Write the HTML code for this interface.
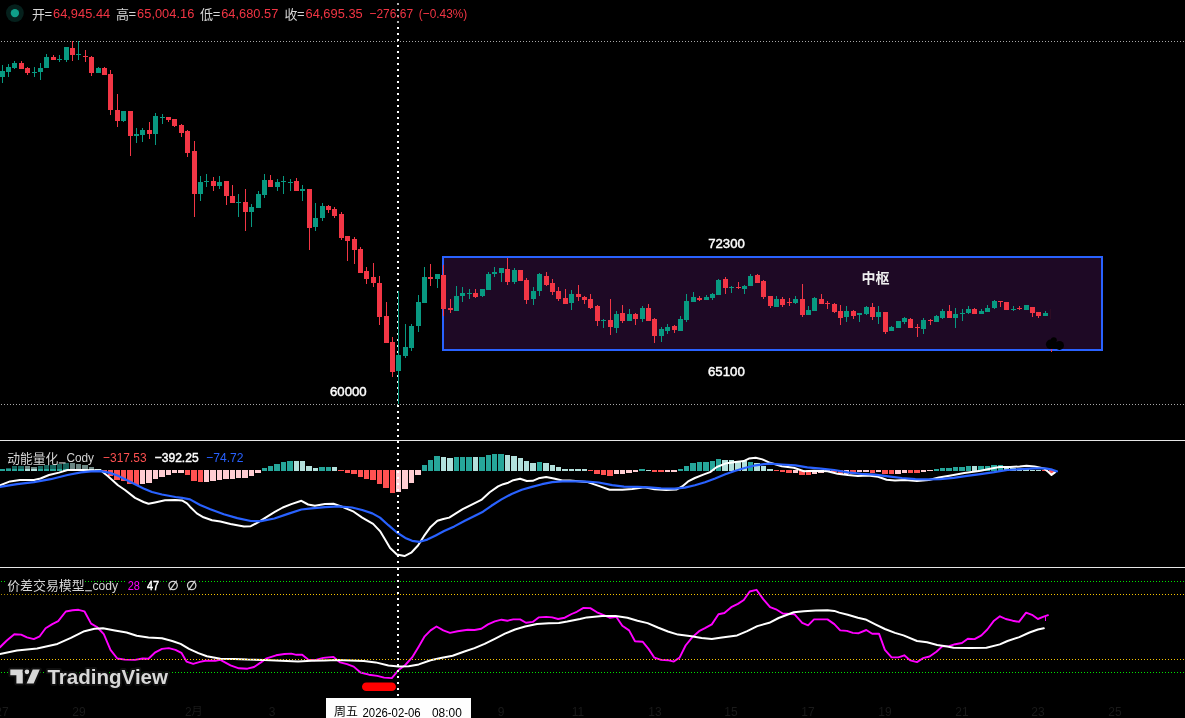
<!DOCTYPE html><html><head><meta charset="utf-8"><title>chart</title>
<style>html,body{margin:0;padding:0;background:#000;overflow:hidden}svg{display:block;font-family:"Liberation Sans","Noto Sans CJK SC",sans-serif}</style></head><body>
<svg width="1185" height="718" viewBox="0 0 1185 718">
<rect width="1185" height="718" fill="#000"/>
<rect x="443" y="257" width="659" height="93" fill="#1e0925" stroke="#2962ff" stroke-width="2" shape-rendering="crispEdges"/>
<line x1="1" y1="41.5" x2="1185" y2="41.5" stroke="#a8a8a8" stroke-width="1" stroke-dasharray="1 2" shape-rendering="crispEdges"/>
<line x1="1" y1="404.5" x2="1185" y2="404.5" stroke="#a8a8a8" stroke-width="1" stroke-dasharray="1 2" shape-rendering="crispEdges"/>
<rect x="0" y="440" width="1185" height="1" fill="#e6e6e6"/>
<rect x="0" y="567" width="1185" height="1" fill="#e6e6e6"/>
<g shape-rendering="crispEdges">
<rect x="2" y="65" width="1" height="18" fill="#089981"/><rect x="0" y="71" width="5" height="6" fill="#089981"/>
<rect x="8" y="64" width="1" height="13" fill="#089981"/><rect x="6" y="67" width="5" height="5" fill="#089981"/>
<rect x="14" y="61" width="1" height="8" fill="#089981"/><rect x="12" y="63" width="5" height="5" fill="#089981"/>
<rect x="21" y="61" width="1" height="8" fill="#f23645"/><rect x="19" y="63" width="5" height="6" fill="#f23645"/>
<rect x="27" y="67" width="1" height="8" fill="#f23645"/><rect x="25" y="68" width="5" height="5" fill="#f23645"/>
<rect x="34" y="67" width="1" height="10" fill="#089981"/><rect x="32" y="72" width="5" height="1" fill="#089981"/>
<rect x="40" y="63" width="1" height="17" fill="#089981"/><rect x="38" y="68" width="5" height="4" fill="#089981"/>
<rect x="46" y="54" width="1" height="14" fill="#089981"/><rect x="44" y="57" width="5" height="11" fill="#089981"/>
<rect x="53" y="55" width="1" height="5" fill="#f23645"/><rect x="51" y="57" width="5" height="3" fill="#f23645"/>
<rect x="59" y="55" width="1" height="7" fill="#089981"/><rect x="57" y="59" width="5" height="1" fill="#089981"/>
<rect x="66" y="47" width="1" height="15" fill="#089981"/><rect x="64" y="47" width="5" height="13" fill="#089981"/>
<rect x="72" y="41" width="1" height="20" fill="#f23645"/><rect x="70" y="48" width="5" height="7" fill="#f23645"/>
<rect x="78" y="41" width="1" height="19" fill="#089981"/><rect x="76" y="54" width="5" height="1" fill="#089981"/>
<rect x="85" y="50" width="1" height="12" fill="#f23645"/><rect x="83" y="56" width="5" height="1" fill="#f23645"/>
<rect x="91" y="56" width="1" height="20" fill="#f23645"/><rect x="89" y="57" width="5" height="16" fill="#f23645"/>
<rect x="98" y="67" width="1" height="6" fill="#089981"/><rect x="96" y="68" width="5" height="5" fill="#089981"/>
<rect x="104" y="67" width="1" height="8" fill="#f23645"/><rect x="102" y="68" width="5" height="7" fill="#f23645"/>
<rect x="110" y="70" width="1" height="45" fill="#f23645"/><rect x="108" y="74" width="5" height="36" fill="#f23645"/>
<rect x="117" y="94" width="1" height="33" fill="#f23645"/><rect x="115" y="110" width="5" height="11" fill="#f23645"/>
<rect x="123" y="111" width="1" height="11" fill="#089981"/><rect x="121" y="111" width="5" height="10" fill="#089981"/>
<rect x="130" y="111" width="1" height="45" fill="#f23645"/><rect x="128" y="111" width="5" height="25" fill="#f23645"/>
<rect x="136" y="128" width="1" height="15" fill="#089981"/><rect x="134" y="134" width="5" height="2" fill="#089981"/>
<rect x="142" y="128" width="1" height="14" fill="#089981"/><rect x="140" y="130" width="5" height="5" fill="#089981"/>
<rect x="149" y="122" width="1" height="17" fill="#f23645"/><rect x="147" y="130" width="5" height="4" fill="#f23645"/>
<rect x="155" y="113" width="1" height="32" fill="#089981"/><rect x="153" y="116" width="5" height="18" fill="#089981"/>
<rect x="162" y="114" width="1" height="10" fill="#089981"/><rect x="160" y="117" width="5" height="1" fill="#089981"/>
<rect x="168" y="117" width="1" height="5" fill="#f23645"/><rect x="166" y="117" width="5" height="3" fill="#f23645"/>
<rect x="174" y="119" width="1" height="8" fill="#f23645"/><rect x="172" y="119" width="5" height="7" fill="#f23645"/>
<rect x="181" y="124" width="1" height="13" fill="#f23645"/><rect x="179" y="125" width="5" height="8" fill="#f23645"/>
<rect x="187" y="130" width="1" height="27" fill="#f23645"/><rect x="185" y="131" width="5" height="22" fill="#f23645"/>
<rect x="194" y="141" width="1" height="76" fill="#f23645"/><rect x="192" y="151" width="5" height="43" fill="#f23645"/>
<rect x="200" y="176" width="1" height="25" fill="#089981"/><rect x="198" y="182" width="5" height="12" fill="#089981"/>
<rect x="206" y="174" width="1" height="13" fill="#089981"/><rect x="204" y="181" width="5" height="1" fill="#089981"/>
<rect x="213" y="177" width="1" height="14" fill="#f23645"/><rect x="211" y="181" width="5" height="5" fill="#f23645"/>
<rect x="219" y="176" width="1" height="13" fill="#089981"/><rect x="217" y="182" width="5" height="4" fill="#089981"/>
<rect x="226" y="181" width="1" height="24" fill="#f23645"/><rect x="224" y="181" width="5" height="15" fill="#f23645"/>
<rect x="232" y="185" width="1" height="18" fill="#f23645"/><rect x="230" y="196" width="5" height="7" fill="#f23645"/>
<rect x="238" y="194" width="1" height="23" fill="#089981"/><rect x="236" y="202" width="5" height="1" fill="#089981"/>
<rect x="245" y="189" width="1" height="42" fill="#f23645"/><rect x="243" y="202" width="5" height="10" fill="#f23645"/>
<rect x="251" y="204" width="1" height="23" fill="#089981"/><rect x="249" y="207" width="5" height="5" fill="#089981"/>
<rect x="258" y="191" width="1" height="17" fill="#089981"/><rect x="256" y="194" width="5" height="14" fill="#089981"/>
<rect x="264" y="174" width="1" height="24" fill="#089981"/><rect x="262" y="180" width="5" height="15" fill="#089981"/>
<rect x="270" y="175" width="1" height="12" fill="#f23645"/><rect x="268" y="180" width="5" height="7" fill="#f23645"/>
<rect x="277" y="179" width="1" height="12" fill="#089981"/><rect x="275" y="182" width="5" height="5" fill="#089981"/>
<rect x="283" y="176" width="1" height="18" fill="#089981"/><rect x="281" y="181" width="5" height="1" fill="#089981"/>
<rect x="290" y="179" width="1" height="12" fill="#089981"/><rect x="288" y="182" width="5" height="1" fill="#089981"/>
<rect x="296" y="178" width="1" height="13" fill="#f23645"/><rect x="294" y="181" width="5" height="10" fill="#f23645"/>
<rect x="302" y="185" width="1" height="16" fill="#089981"/><rect x="300" y="189" width="5" height="2" fill="#089981"/>
<rect x="309" y="189" width="1" height="61" fill="#f23645"/><rect x="307" y="189" width="5" height="39" fill="#f23645"/>
<rect x="315" y="203" width="1" height="28" fill="#089981"/><rect x="313" y="218" width="5" height="9" fill="#089981"/>
<rect x="322" y="203" width="1" height="18" fill="#089981"/><rect x="320" y="206" width="5" height="12" fill="#089981"/>
<rect x="328" y="205" width="1" height="8" fill="#f23645"/><rect x="326" y="206" width="5" height="4" fill="#f23645"/>
<rect x="334" y="207" width="1" height="11" fill="#f23645"/><rect x="332" y="209" width="5" height="7" fill="#f23645"/>
<rect x="341" y="212" width="1" height="28" fill="#f23645"/><rect x="339" y="214" width="5" height="24" fill="#f23645"/>
<rect x="347" y="236" width="1" height="25" fill="#f23645"/><rect x="345" y="236" width="5" height="5" fill="#f23645"/>
<rect x="354" y="237" width="1" height="27" fill="#f23645"/><rect x="352" y="239" width="5" height="11" fill="#f23645"/>
<rect x="360" y="247" width="1" height="26" fill="#f23645"/><rect x="358" y="249" width="5" height="24" fill="#f23645"/>
<rect x="366" y="267" width="1" height="17" fill="#f23645"/><rect x="364" y="271" width="5" height="8" fill="#f23645"/>
<rect x="373" y="263" width="1" height="24" fill="#f23645"/><rect x="371" y="277" width="5" height="6" fill="#f23645"/>
<rect x="379" y="276" width="1" height="49" fill="#f23645"/><rect x="377" y="283" width="5" height="34" fill="#f23645"/>
<rect x="386" y="302" width="1" height="41" fill="#f23645"/><rect x="384" y="316" width="5" height="27" fill="#f23645"/>
<rect x="392" y="337" width="1" height="40" fill="#f23645"/><rect x="390" y="342" width="5" height="30" fill="#f23645"/>
<rect x="398" y="291" width="1" height="113" fill="#089981"/><rect x="396" y="355" width="5" height="16" fill="#089981"/>
<rect x="405" y="324" width="1" height="34" fill="#089981"/><rect x="403" y="347" width="5" height="9" fill="#089981"/>
<rect x="411" y="324" width="1" height="27" fill="#089981"/><rect x="409" y="326" width="5" height="22" fill="#089981"/>
<rect x="418" y="295" width="1" height="37" fill="#089981"/><rect x="416" y="302" width="5" height="24" fill="#089981"/>
<rect x="424" y="267" width="1" height="36" fill="#089981"/><rect x="422" y="277" width="5" height="26" fill="#089981"/>
<rect x="430" y="264" width="1" height="22" fill="#f23645"/><rect x="428" y="277" width="5" height="2" fill="#f23645"/>
<rect x="437" y="274" width="1" height="14" fill="#089981"/><rect x="435" y="274" width="5" height="5" fill="#089981"/>
<rect x="443" y="265" width="1" height="51" fill="#f23645"/><rect x="441" y="275" width="5" height="34" fill="#f23645"/>
<rect x="450" y="299" width="1" height="14" fill="#f23645"/><rect x="448" y="308" width="5" height="2" fill="#f23645"/>
<rect x="456" y="286" width="1" height="25" fill="#089981"/><rect x="454" y="296" width="5" height="15" fill="#089981"/>
<rect x="462" y="287" width="1" height="15" fill="#089981"/><rect x="460" y="293" width="5" height="3" fill="#089981"/>
<rect x="469" y="289" width="1" height="10" fill="#089981"/><rect x="467" y="293" width="5" height="1" fill="#089981"/>
<rect x="475" y="289" width="1" height="9" fill="#f23645"/><rect x="473" y="293" width="5" height="4" fill="#f23645"/>
<rect x="482" y="289" width="1" height="8" fill="#089981"/><rect x="480" y="289" width="5" height="7" fill="#089981"/>
<rect x="488" y="272" width="1" height="18" fill="#089981"/><rect x="486" y="274" width="5" height="16" fill="#089981"/>
<rect x="494" y="267" width="1" height="10" fill="#089981"/><rect x="492" y="272" width="5" height="2" fill="#089981"/>
<rect x="501" y="268" width="1" height="14" fill="#089981"/><rect x="499" y="268" width="5" height="5" fill="#089981"/>
<rect x="507" y="258" width="1" height="27" fill="#f23645"/><rect x="505" y="269" width="5" height="13" fill="#f23645"/>
<rect x="514" y="268" width="1" height="16" fill="#089981"/><rect x="512" y="270" width="5" height="12" fill="#089981"/>
<rect x="520" y="270" width="1" height="11" fill="#f23645"/><rect x="518" y="270" width="5" height="11" fill="#f23645"/>
<rect x="526" y="278" width="1" height="26" fill="#f23645"/><rect x="524" y="280" width="5" height="20" fill="#f23645"/>
<rect x="533" y="287" width="1" height="18" fill="#089981"/><rect x="531" y="291" width="5" height="8" fill="#089981"/>
<rect x="539" y="273" width="1" height="23" fill="#089981"/><rect x="537" y="274" width="5" height="17" fill="#089981"/>
<rect x="546" y="272" width="1" height="14" fill="#f23645"/><rect x="544" y="276" width="5" height="9" fill="#f23645"/>
<rect x="552" y="279" width="1" height="16" fill="#f23645"/><rect x="550" y="283" width="5" height="9" fill="#f23645"/>
<rect x="558" y="287" width="1" height="14" fill="#f23645"/><rect x="556" y="291" width="5" height="8" fill="#f23645"/>
<rect x="565" y="289" width="1" height="15" fill="#f23645"/><rect x="563" y="298" width="5" height="6" fill="#f23645"/>
<rect x="571" y="290" width="1" height="20" fill="#089981"/><rect x="569" y="294" width="5" height="9" fill="#089981"/>
<rect x="578" y="285" width="1" height="16" fill="#f23645"/><rect x="576" y="294" width="5" height="3" fill="#f23645"/>
<rect x="584" y="296" width="1" height="8" fill="#f23645"/><rect x="582" y="297" width="5" height="3" fill="#f23645"/>
<rect x="590" y="294" width="1" height="15" fill="#f23645"/><rect x="588" y="299" width="5" height="9" fill="#f23645"/>
<rect x="597" y="305" width="1" height="21" fill="#f23645"/><rect x="595" y="306" width="5" height="15" fill="#f23645"/>
<rect x="603" y="319" width="1" height="9" fill="#089981"/><rect x="601" y="320" width="5" height="1" fill="#089981"/>
<rect x="610" y="299" width="1" height="36" fill="#f23645"/><rect x="608" y="320" width="5" height="7" fill="#f23645"/>
<rect x="616" y="311" width="1" height="22" fill="#089981"/><rect x="614" y="314" width="5" height="14" fill="#089981"/>
<rect x="622" y="305" width="1" height="18" fill="#f23645"/><rect x="620" y="313" width="5" height="8" fill="#f23645"/>
<rect x="629" y="309" width="1" height="12" fill="#089981"/><rect x="627" y="314" width="5" height="7" fill="#089981"/>
<rect x="635" y="313" width="1" height="12" fill="#f23645"/><rect x="633" y="314" width="5" height="5" fill="#f23645"/>
<rect x="642" y="306" width="1" height="16" fill="#089981"/><rect x="640" y="308" width="5" height="11" fill="#089981"/>
<rect x="648" y="304" width="1" height="17" fill="#f23645"/><rect x="646" y="308" width="5" height="13" fill="#f23645"/>
<rect x="654" y="318" width="1" height="25" fill="#f23645"/><rect x="652" y="319" width="5" height="17" fill="#f23645"/>
<rect x="661" y="327" width="1" height="15" fill="#089981"/><rect x="659" y="329" width="5" height="7" fill="#089981"/>
<rect x="667" y="324" width="1" height="10" fill="#089981"/><rect x="665" y="327" width="5" height="4" fill="#089981"/>
<rect x="674" y="325" width="1" height="8" fill="#f23645"/><rect x="672" y="326" width="5" height="4" fill="#f23645"/>
<rect x="680" y="316" width="1" height="15" fill="#089981"/><rect x="678" y="319" width="5" height="12" fill="#089981"/>
<rect x="686" y="294" width="1" height="28" fill="#089981"/><rect x="684" y="301" width="5" height="19" fill="#089981"/>
<rect x="693" y="292" width="1" height="10" fill="#089981"/><rect x="691" y="297" width="5" height="5" fill="#089981"/>
<rect x="699" y="296" width="1" height="5" fill="#f23645"/><rect x="697" y="298" width="5" height="2" fill="#f23645"/>
<rect x="706" y="295" width="1" height="5" fill="#089981"/><rect x="704" y="297" width="5" height="3" fill="#089981"/>
<rect x="712" y="293" width="1" height="7" fill="#089981"/><rect x="710" y="294" width="5" height="4" fill="#089981"/>
<rect x="718" y="279" width="1" height="16" fill="#089981"/><rect x="716" y="280" width="5" height="15" fill="#089981"/>
<rect x="725" y="277" width="1" height="17" fill="#f23645"/><rect x="723" y="279" width="5" height="9" fill="#f23645"/>
<rect x="731" y="286" width="1" height="7" fill="#089981"/><rect x="729" y="287" width="5" height="1" fill="#089981"/>
<rect x="738" y="282" width="1" height="7" fill="#f23645"/><rect x="736" y="287" width="5" height="1" fill="#f23645"/>
<rect x="744" y="285" width="1" height="9" fill="#089981"/><rect x="742" y="286" width="5" height="3" fill="#089981"/>
<rect x="750" y="274" width="1" height="12" fill="#089981"/><rect x="748" y="276" width="5" height="10" fill="#089981"/>
<rect x="757" y="274" width="1" height="9" fill="#f23645"/><rect x="755" y="275" width="5" height="8" fill="#f23645"/>
<rect x="763" y="280" width="1" height="19" fill="#f23645"/><rect x="761" y="281" width="5" height="16" fill="#f23645"/>
<rect x="770" y="296" width="1" height="12" fill="#f23645"/><rect x="768" y="296" width="5" height="10" fill="#f23645"/>
<rect x="776" y="296" width="1" height="11" fill="#089981"/><rect x="774" y="299" width="5" height="8" fill="#089981"/>
<rect x="782" y="297" width="1" height="10" fill="#f23645"/><rect x="780" y="299" width="5" height="6" fill="#f23645"/>
<rect x="789" y="298" width="1" height="8" fill="#f23645"/><rect x="787" y="302" width="5" height="1" fill="#f23645"/>
<rect x="795" y="296" width="1" height="8" fill="#089981"/><rect x="793" y="299" width="5" height="4" fill="#089981"/>
<rect x="802" y="284" width="1" height="33" fill="#f23645"/><rect x="800" y="299" width="5" height="16" fill="#f23645"/>
<rect x="808" y="306" width="1" height="9" fill="#089981"/><rect x="806" y="310" width="5" height="5" fill="#089981"/>
<rect x="814" y="297" width="1" height="14" fill="#089981"/><rect x="812" y="298" width="5" height="13" fill="#089981"/>
<rect x="821" y="294" width="1" height="10" fill="#f23645"/><rect x="819" y="299" width="5" height="5" fill="#f23645"/>
<rect x="827" y="301" width="1" height="8" fill="#f23645"/><rect x="825" y="303" width="5" height="1" fill="#f23645"/>
<rect x="834" y="303" width="1" height="10" fill="#f23645"/><rect x="832" y="304" width="5" height="8" fill="#f23645"/>
<rect x="840" y="305" width="1" height="20" fill="#f23645"/><rect x="838" y="311" width="5" height="7" fill="#f23645"/>
<rect x="846" y="306" width="1" height="16" fill="#089981"/><rect x="844" y="311" width="5" height="6" fill="#089981"/>
<rect x="853" y="310" width="1" height="9" fill="#f23645"/><rect x="851" y="311" width="5" height="5" fill="#f23645"/>
<rect x="859" y="313" width="1" height="9" fill="#089981"/><rect x="857" y="313" width="5" height="2" fill="#089981"/>
<rect x="866" y="306" width="1" height="9" fill="#089981"/><rect x="864" y="307" width="5" height="7" fill="#089981"/>
<rect x="872" y="303" width="1" height="17" fill="#f23645"/><rect x="870" y="307" width="5" height="10" fill="#f23645"/>
<rect x="878" y="306" width="1" height="18" fill="#089981"/><rect x="876" y="312" width="5" height="5" fill="#089981"/>
<rect x="885" y="312" width="1" height="22" fill="#f23645"/><rect x="883" y="312" width="5" height="20" fill="#f23645"/>
<rect x="891" y="326" width="1" height="5" fill="#089981"/><rect x="889" y="327" width="5" height="4" fill="#089981"/>
<rect x="898" y="321" width="1" height="7" fill="#089981"/><rect x="896" y="321" width="5" height="7" fill="#089981"/>
<rect x="904" y="317" width="1" height="7" fill="#089981"/><rect x="902" y="318" width="5" height="4" fill="#089981"/>
<rect x="910" y="318" width="1" height="10" fill="#f23645"/><rect x="908" y="319" width="5" height="9" fill="#f23645"/>
<rect x="917" y="324" width="1" height="13" fill="#f23645"/><rect x="915" y="327" width="5" height="1" fill="#f23645"/>
<rect x="923" y="318" width="1" height="16" fill="#089981"/><rect x="921" y="320" width="5" height="9" fill="#089981"/>
<rect x="930" y="319" width="1" height="6" fill="#f23645"/><rect x="928" y="320" width="5" height="1" fill="#f23645"/>
<rect x="936" y="315" width="1" height="7" fill="#089981"/><rect x="934" y="316" width="5" height="6" fill="#089981"/>
<rect x="942" y="309" width="1" height="10" fill="#089981"/><rect x="940" y="311" width="5" height="7" fill="#089981"/>
<rect x="949" y="305" width="1" height="13" fill="#f23645"/><rect x="947" y="311" width="5" height="7" fill="#f23645"/>
<rect x="955" y="308" width="1" height="20" fill="#089981"/><rect x="953" y="314" width="5" height="4" fill="#089981"/>
<rect x="962" y="309" width="1" height="12" fill="#089981"/><rect x="960" y="313" width="5" height="1" fill="#089981"/>
<rect x="968" y="306" width="1" height="8" fill="#089981"/><rect x="966" y="309" width="5" height="4" fill="#089981"/>
<rect x="974" y="308" width="1" height="6" fill="#f23645"/><rect x="972" y="309" width="5" height="5" fill="#f23645"/>
<rect x="981" y="309" width="1" height="5" fill="#089981"/><rect x="979" y="311" width="5" height="3" fill="#089981"/>
<rect x="987" y="305" width="1" height="7" fill="#089981"/><rect x="985" y="308" width="5" height="4" fill="#089981"/>
<rect x="994" y="300" width="1" height="9" fill="#089981"/><rect x="992" y="301" width="5" height="7" fill="#089981"/>
<rect x="1000" y="301" width="1" height="6" fill="#f23645"/><rect x="998" y="301" width="5" height="1" fill="#f23645"/>
<rect x="1006" y="302" width="1" height="8" fill="#f23645"/><rect x="1004" y="302" width="5" height="8" fill="#f23645"/>
<rect x="1013" y="306" width="1" height="5" fill="#089981"/><rect x="1011" y="309" width="5" height="1" fill="#089981"/>
<rect x="1019" y="306" width="1" height="4" fill="#f23645"/><rect x="1017" y="308" width="5" height="1" fill="#f23645"/>
<rect x="1026" y="305" width="1" height="5" fill="#089981"/><rect x="1024" y="305" width="5" height="5" fill="#089981"/>
<rect x="1032" y="307" width="1" height="10" fill="#f23645"/><rect x="1030" y="307" width="5" height="6" fill="#f23645"/>
<rect x="1038" y="312" width="1" height="6" fill="#f23645"/><rect x="1036" y="312" width="5" height="4" fill="#f23645"/>
<rect x="1045" y="311" width="1" height="5" fill="#089981"/><rect x="1043" y="313" width="5" height="3" fill="#089981"/>
</g>
<g shape-rendering="crispEdges">
<rect x="0" y="469" width="5" height="2" fill="#26a69a"/>
<rect x="6" y="468" width="5" height="3" fill="#26a69a"/>
<rect x="12" y="466" width="5" height="5" fill="#26a69a"/>
<rect x="18" y="466" width="6" height="5" fill="#26a69a"/>
<rect x="25" y="466" width="5" height="5" fill="#b2dfdb"/>
<rect x="31" y="467" width="6" height="4" fill="#b2dfdb"/>
<rect x="38" y="466" width="5" height="5" fill="#26a69a"/>
<rect x="44" y="465" width="5" height="6" fill="#26a69a"/>
<rect x="50" y="465" width="6" height="6" fill="#26a69a"/>
<rect x="57" y="464" width="5" height="7" fill="#26a69a"/>
<rect x="63" y="463" width="6" height="8" fill="#26a69a"/>
<rect x="70" y="463" width="5" height="8" fill="#b2dfdb"/>
<rect x="76" y="464" width="5" height="7" fill="#b2dfdb"/>
<rect x="82" y="465" width="6" height="6" fill="#b2dfdb"/>
<rect x="89" y="467" width="5" height="4" fill="#b2dfdb"/>
<rect x="95" y="469" width="6" height="2" fill="#b2dfdb"/>
<rect x="102" y="470" width="5" height="2" fill="#ff5252"/>
<rect x="108" y="470" width="5" height="6" fill="#ff5252"/>
<rect x="114" y="470" width="6" height="10" fill="#ff5252"/>
<rect x="121" y="470" width="5" height="11" fill="#ff5252"/>
<rect x="127" y="470" width="6" height="14" fill="#ff5252"/>
<rect x="134" y="470" width="5" height="15" fill="#ff5252"/>
<rect x="140" y="470" width="5" height="14" fill="#ffcdd2"/>
<rect x="146" y="470" width="6" height="13" fill="#ffcdd2"/>
<rect x="153" y="470" width="5" height="9" fill="#ffcdd2"/>
<rect x="159" y="470" width="6" height="7" fill="#ffcdd2"/>
<rect x="166" y="470" width="5" height="5" fill="#ffcdd2"/>
<rect x="172" y="470" width="5" height="3" fill="#ffcdd2"/>
<rect x="178" y="470" width="6" height="3" fill="#ffcdd2"/>
<rect x="185" y="470" width="5" height="5" fill="#ff5252"/>
<rect x="191" y="470" width="6" height="11" fill="#ff5252"/>
<rect x="198" y="470" width="5" height="12" fill="#ff5252"/>
<rect x="204" y="470" width="5" height="12" fill="#ffcdd2"/>
<rect x="210" y="470" width="6" height="11" fill="#ffcdd2"/>
<rect x="217" y="470" width="5" height="10" fill="#ffcdd2"/>
<rect x="223" y="470" width="6" height="9" fill="#ffcdd2"/>
<rect x="230" y="470" width="5" height="9" fill="#ffcdd2"/>
<rect x="236" y="470" width="5" height="8" fill="#ffcdd2"/>
<rect x="242" y="470" width="6" height="8" fill="#ffcdd2"/>
<rect x="249" y="470" width="5" height="6" fill="#ffcdd2"/>
<rect x="255" y="470" width="6" height="3" fill="#ffcdd2"/>
<rect x="262" y="468" width="5" height="3" fill="#26a69a"/>
<rect x="268" y="466" width="5" height="5" fill="#26a69a"/>
<rect x="274" y="464" width="6" height="7" fill="#26a69a"/>
<rect x="281" y="462" width="5" height="9" fill="#26a69a"/>
<rect x="287" y="461" width="6" height="10" fill="#26a69a"/>
<rect x="294" y="461" width="5" height="10" fill="#b2dfdb"/>
<rect x="300" y="461" width="5" height="10" fill="#b2dfdb"/>
<rect x="306" y="466" width="6" height="5" fill="#b2dfdb"/>
<rect x="313" y="468" width="5" height="3" fill="#b2dfdb"/>
<rect x="319" y="467" width="6" height="4" fill="#26a69a"/>
<rect x="326" y="467" width="5" height="4" fill="#26a69a"/>
<rect x="332" y="467" width="5" height="4" fill="#b2dfdb"/>
<rect x="338" y="470" width="6" height="1" fill="#ff5252"/>
<rect x="345" y="470" width="5" height="3" fill="#ff5252"/>
<rect x="351" y="470" width="6" height="4" fill="#ff5252"/>
<rect x="358" y="470" width="5" height="7" fill="#ff5252"/>
<rect x="364" y="470" width="5" height="9" fill="#ff5252"/>
<rect x="370" y="470" width="6" height="10" fill="#ff5252"/>
<rect x="377" y="470" width="5" height="14" fill="#ff5252"/>
<rect x="383" y="470" width="6" height="18" fill="#ff5252"/>
<rect x="390" y="470" width="5" height="23" fill="#ff5252"/>
<rect x="396" y="470" width="5" height="22" fill="#ffcdd2"/>
<rect x="402" y="470" width="6" height="19" fill="#ffcdd2"/>
<rect x="409" y="470" width="5" height="13" fill="#ffcdd2"/>
<rect x="415" y="470" width="6" height="5" fill="#ffcdd2"/>
<rect x="422" y="465" width="5" height="6" fill="#26a69a"/>
<rect x="428" y="460" width="5" height="11" fill="#26a69a"/>
<rect x="434" y="456" width="6" height="15" fill="#26a69a"/>
<rect x="441" y="457" width="5" height="14" fill="#b2dfdb"/>
<rect x="447" y="458" width="6" height="13" fill="#b2dfdb"/>
<rect x="454" y="457" width="5" height="14" fill="#26a69a"/>
<rect x="460" y="457" width="5" height="14" fill="#26a69a"/>
<rect x="466" y="457" width="6" height="14" fill="#26a69a"/>
<rect x="473" y="457" width="5" height="14" fill="#b2dfdb"/>
<rect x="479" y="457" width="6" height="14" fill="#26a69a"/>
<rect x="486" y="455" width="5" height="16" fill="#26a69a"/>
<rect x="492" y="454" width="5" height="17" fill="#26a69a"/>
<rect x="498" y="454" width="6" height="17" fill="#26a69a"/>
<rect x="505" y="455" width="5" height="16" fill="#b2dfdb"/>
<rect x="511" y="456" width="6" height="15" fill="#b2dfdb"/>
<rect x="518" y="458" width="5" height="13" fill="#b2dfdb"/>
<rect x="524" y="461" width="5" height="10" fill="#b2dfdb"/>
<rect x="530" y="463" width="6" height="8" fill="#b2dfdb"/>
<rect x="537" y="462" width="5" height="9" fill="#26a69a"/>
<rect x="543" y="463" width="6" height="8" fill="#b2dfdb"/>
<rect x="550" y="465" width="5" height="6" fill="#b2dfdb"/>
<rect x="556" y="467" width="5" height="4" fill="#b2dfdb"/>
<rect x="562" y="469" width="6" height="2" fill="#b2dfdb"/>
<rect x="569" y="469" width="5" height="2" fill="#b2dfdb"/>
<rect x="575" y="469" width="6" height="2" fill="#b2dfdb"/>
<rect x="582" y="469" width="5" height="2" fill="#b2dfdb"/>
<rect x="588" y="470" width="5" height="1" fill="#ff5252"/>
<rect x="594" y="470" width="6" height="4" fill="#ff5252"/>
<rect x="601" y="470" width="5" height="5" fill="#ff5252"/>
<rect x="607" y="470" width="6" height="6" fill="#ff5252"/>
<rect x="614" y="470" width="5" height="4" fill="#ffcdd2"/>
<rect x="620" y="470" width="5" height="4" fill="#ffcdd2"/>
<rect x="626" y="470" width="6" height="3" fill="#ffcdd2"/>
<rect x="633" y="470" width="5" height="2" fill="#ffcdd2"/>
<rect x="639" y="469" width="6" height="2" fill="#26a69a"/>
<rect x="646" y="470" width="5" height="1" fill="#b2dfdb"/>
<rect x="652" y="470" width="5" height="2" fill="#ff5252"/>
<rect x="658" y="470" width="6" height="2" fill="#ff5252"/>
<rect x="665" y="470" width="5" height="2" fill="#ffcdd2"/>
<rect x="671" y="470" width="6" height="2" fill="#ffcdd2"/>
<rect x="678" y="469" width="5" height="2" fill="#26a69a"/>
<rect x="684" y="466" width="5" height="5" fill="#26a69a"/>
<rect x="690" y="463" width="6" height="8" fill="#26a69a"/>
<rect x="697" y="462" width="5" height="9" fill="#26a69a"/>
<rect x="703" y="462" width="6" height="9" fill="#26a69a"/>
<rect x="710" y="461" width="5" height="10" fill="#26a69a"/>
<rect x="716" y="459" width="5" height="12" fill="#26a69a"/>
<rect x="722" y="460" width="6" height="11" fill="#b2dfdb"/>
<rect x="729" y="460" width="5" height="11" fill="#b2dfdb"/>
<rect x="735" y="461" width="6" height="10" fill="#b2dfdb"/>
<rect x="742" y="461" width="5" height="10" fill="#b2dfdb"/>
<rect x="748" y="462" width="5" height="9" fill="#26a69a"/>
<rect x="754" y="463" width="6" height="8" fill="#b2dfdb"/>
<rect x="761" y="466" width="5" height="5" fill="#b2dfdb"/>
<rect x="767" y="469" width="6" height="2" fill="#b2dfdb"/>
<rect x="774" y="470" width="5" height="1" fill="#ff5252"/>
<rect x="780" y="470" width="5" height="2" fill="#ff5252"/>
<rect x="786" y="470" width="6" height="3" fill="#ff5252"/>
<rect x="793" y="470" width="5" height="3" fill="#ffcdd2"/>
<rect x="799" y="470" width="6" height="5" fill="#ff5252"/>
<rect x="806" y="470" width="5" height="5" fill="#ff5252"/>
<rect x="812" y="470" width="5" height="4" fill="#ffcdd2"/>
<rect x="818" y="470" width="6" height="3" fill="#ffcdd2"/>
<rect x="825" y="470" width="5" height="2" fill="#ffcdd2"/>
<rect x="831" y="470" width="6" height="2" fill="#ff5252"/>
<rect x="838" y="470" width="5" height="4" fill="#ff5252"/>
<rect x="844" y="470" width="5" height="4" fill="#ffcdd2"/>
<rect x="850" y="470" width="6" height="4" fill="#ff5252"/>
<rect x="857" y="470" width="5" height="2" fill="#ffcdd2"/>
<rect x="863" y="470" width="6" height="2" fill="#ffcdd2"/>
<rect x="870" y="470" width="5" height="3" fill="#ff5252"/>
<rect x="876" y="470" width="5" height="2" fill="#ffcdd2"/>
<rect x="882" y="470" width="6" height="4" fill="#ff5252"/>
<rect x="889" y="470" width="5" height="4" fill="#ff5252"/>
<rect x="895" y="470" width="6" height="4" fill="#ffcdd2"/>
<rect x="902" y="470" width="5" height="3" fill="#ffcdd2"/>
<rect x="908" y="470" width="5" height="3" fill="#ff5252"/>
<rect x="914" y="470" width="6" height="3" fill="#ff5252"/>
<rect x="921" y="470" width="5" height="2" fill="#ffcdd2"/>
<rect x="927" y="470" width="6" height="1" fill="#ffcdd2"/>
<rect x="934" y="469" width="5" height="2" fill="#26a69a"/>
<rect x="940" y="468" width="5" height="3" fill="#26a69a"/>
<rect x="946" y="468" width="6" height="3" fill="#26a69a"/>
<rect x="953" y="467" width="5" height="4" fill="#26a69a"/>
<rect x="959" y="467" width="6" height="4" fill="#26a69a"/>
<rect x="966" y="466" width="5" height="5" fill="#26a69a"/>
<rect x="972" y="466" width="5" height="5" fill="#b2dfdb"/>
<rect x="978" y="466" width="6" height="5" fill="#26a69a"/>
<rect x="985" y="466" width="5" height="5" fill="#26a69a"/>
<rect x="991" y="465" width="6" height="6" fill="#26a69a"/>
<rect x="998" y="465" width="5" height="6" fill="#26a69a"/>
<rect x="1004" y="467" width="5" height="4" fill="#b2dfdb"/>
<rect x="1010" y="468" width="6" height="3" fill="#b2dfdb"/>
<rect x="1017" y="469" width="5" height="2" fill="#b2dfdb"/>
<rect x="1023" y="469" width="6" height="2" fill="#b2dfdb"/>
<rect x="1030" y="470" width="5" height="1" fill="#b2dfdb"/>
<rect x="1036" y="470" width="5" height="1" fill="#b2dfdb"/>
<rect x="1042" y="470" width="6" height="1" fill="#ff5252"/>
<rect x="1049" y="470" width="5" height="4" fill="#ff5252"/>
</g>
<rect x="5" y="448" width="92" height="21" fill="#000" opacity="0.4"/>
<polyline points="0.0,485.2 10.0,481.4 20.0,480.0 34.0,480.0 40.5,478.5 49.0,475.0 59.0,472.6 67.5,470.0 84.0,469.9 101.0,470.5 108.0,476.3 118.0,485.2 125.0,490.0 135.0,497.9 143.5,502.0 148.5,503.8 155.0,502.4 165.0,500.3 175.5,499.9 182.0,500.4 187.0,503.3 190.0,506.7 196.8,513.4 203.5,517.3 212.0,520.2 220.4,521.5 230.5,524.0 244.0,526.6 250.8,526.2 257.5,522.7 266.0,517.3 274.4,512.2 282.8,507.5 291.3,504.1 301.4,500.8 308.1,504.5 314.9,505.8 325.0,504.1 333.5,503.8 341.9,506.7 353.7,511.7 362.2,517.6 373.1,523.9 380.0,531.1 385.1,539.6 390.1,548.0 396.9,554.4 404.5,556.1 411.2,552.7 418.0,545.5 423.9,536.2 430.6,526.9 437.4,520.7 443.3,519.0 449.2,517.6 455.9,513.4 462.7,509.2 472.8,504.1 481.3,499.9 489.7,492.3 498.1,486.4 503.2,484.2 508.3,482.7 513.3,480.2 520.1,478.8 526.8,481.0 532.7,480.8 538.6,478.3 546.2,477.1 553.8,478.5 562.3,480.5 570.0,480.5 586.9,481.9 598.7,485.9 609.7,489.8 622.3,489.8 632.4,488.9 644.3,487.3 654.4,489.3 666.2,490.0 676.3,489.6 682.2,486.4 688.1,481.4 694.9,478.0 703.3,474.6 710.1,472.1 716.8,467.0 725.3,463.6 735.4,461.9 743.8,461.1 748.9,458.6 755.7,457.7 762.4,459.4 770.1,462.8 781.9,466.2 793.8,467.8 803.9,471.2 814.0,470.7 827.5,471.2 837.6,473.8 847.8,475.1 857.9,475.9 868.0,475.4 878.1,476.8 886.6,479.7 895.0,480.5 905.1,480.0 917.0,481.0 928.8,480.0 938.9,477.5 950.8,475.4 964.3,473.1 980.5,470.8 991.4,468.4 999.5,467.0 1010.3,467.0 1019.7,466.4 1026.5,465.7 1034.6,466.6 1044.1,468.4 1048.1,471.8 1051.5,474.9 1054.9,472.4" fill="none" stroke="#ffffff" stroke-width="2" stroke-linejoin="round" stroke-linecap="round"/>
<polyline points="0.0,486.8 17.0,484.2 34.0,482.2 50.6,479.2 67.5,475.0 81.0,472.4 91.0,471.4 101.0,471.2 110.0,472.9 118.0,475.8 126.6,480.0 135.0,484.2 143.5,488.4 152.0,492.0 162.0,494.5 175.5,497.0 182.0,497.9 190.0,499.4 200.1,505.0 210.3,509.2 223.8,514.3 237.3,518.1 250.8,521.0 260.9,521.2 274.4,518.5 287.9,513.9 301.4,509.5 311.5,508.4 325.0,507.2 338.5,506.3 352.0,507.5 362.2,510.0 372.3,513.4 380.0,517.6 388.4,525.2 396.9,532.5 405.3,537.9 412.1,540.8 419.7,541.8 427.3,539.6 435.7,535.4 444.1,531.1 454.3,526.4 464.4,521.0 474.5,515.9 483.0,511.7 491.4,505.8 501.5,499.4 511.6,494.0 521.8,489.8 531.9,486.9 542.0,484.2 552.2,482.2 562.3,481.4 580.0,481.4 586.9,481.7 598.7,482.5 612.2,485.2 624.0,486.6 637.5,486.9 649.3,487.3 661.1,488.3 674.6,488.6 684.8,487.6 694.9,485.2 705.0,482.2 715.1,478.5 725.3,474.3 735.4,470.7 745.5,467.8 755.7,465.3 764.1,464.1 770.1,463.6 781.9,464.5 795.4,465.3 807.3,467.3 820.8,468.7 834.3,470.0 847.8,472.4 861.3,473.8 874.8,474.6 888.3,476.3 901.8,478.0 915.3,479.2 928.8,479.3 940.0,479.2 953.5,477.8 967.0,475.8 980.5,474.1 994.1,472.2 1007.6,470.0 1021.1,469.1 1034.6,468.4 1045.4,468.4 1052.2,469.7 1056.9,471.4" fill="none" stroke="#2962ff" stroke-width="2.2" stroke-linejoin="round" stroke-linecap="round"/>
<polyline points="0.0,647.2 6.8,640.5 14.3,634.2 21.1,634.6 27.0,637.4 33.8,639.1 39.7,636.3 45.6,628.3 52.3,624.1 58.2,621.1 65.8,611.5 72.6,610.3 78.5,609.8 84.4,611.3 91.1,623.6 97.0,627.0 103.8,634.2 110.5,649.8 117.3,658.5 124.9,659.6 135.0,659.9 142.6,658.5 148.5,658.7 155.3,652.3 162.0,648.9 168.8,648.1 175.5,649.8 181.4,652.8 186.5,661.6 193.2,663.8 200.0,661.9 205.2,660.7 215.3,660.7 220.4,659.9 230.5,665.3 238.9,668.3 247.4,668.7 254.1,667.0 260.9,662.4 265.9,658.7 276.1,655.3 284.5,654.0 291.3,653.6 296.3,654.8 302.2,654.8 308.1,659.6 314.9,660.2 323.3,657.9 333.5,656.9 340.2,662.4 347.0,664.1 353.7,666.6 360.5,672.5 368.9,674.7 377.3,675.9 384.1,677.6 391.8,678.1 398.6,670.0 405.3,665.0 412.1,657.4 418.8,646.4 424.7,636.3 430.6,630.4 436.5,626.5 443.3,630.4 450.0,632.9 457.6,631.2 467.8,629.8 474.5,630.0 481.3,628.7 488.0,624.4 494.8,621.4 501.5,619.7 507.4,620.7 513.3,619.4 520.1,619.4 526.0,622.8 532.7,621.9 538.6,617.4 546.2,616.9 552.2,617.4 558.1,619.0 564.8,617.7 571.6,614.0 576.8,611.8 583.5,607.9 590.3,608.1 597.0,612.3 603.8,615.2 609.7,617.7 616.4,616.9 622.3,625.8 629.1,630.4 635.0,641.3 642.6,641.7 648.5,648.9 654.4,657.7 661.1,659.9 667.9,660.2 673.8,661.6 679.7,657.4 685.6,645.5 692.4,637.1 699.1,631.2 705.0,628.2 711.8,624.4 718.5,614.3 724.4,613.0 731.2,607.2 737.9,603.9 743.8,600.0 749.7,591.5 756.5,589.8 763.2,599.1 770.1,607.2 776.0,609.3 782.8,613.5 794.6,614.3 802.2,622.8 808.1,625.3 814.0,619.4 827.5,619.4 834.3,624.1 840.2,630.4 846.9,630.9 852.8,632.9 858.7,633.2 866.3,630.0 872.2,633.7 879.0,633.7 884.9,649.8 891.6,657.4 898.4,657.4 904.3,655.3 910.2,660.4 917.0,662.1 922.9,658.2 929.6,656.5 936.4,651.8 942.3,646.4 949.0,646.1 955.2,644.2 961.9,643.0 967.8,638.8 974.6,639.1 981.4,635.4 987.3,629.5 994.0,620.7 999.9,616.3 1005.8,619.0 1012.6,620.7 1019.0,621.9 1026.1,612.6 1032.0,614.8 1037.9,619.0 1043.0,616.9 1048.0,615.2" fill="none" stroke="#ff00ff" stroke-width="1.9" stroke-linejoin="round" stroke-linecap="round"/>
<rect x="1045" y="617" width="1" height="4" fill="#ff00ff"/>
<polyline points="0.0,654.0 16.9,650.6 37.1,648.4 57.4,643.9 70.9,637.9 84.4,631.2 94.5,628.7 103.0,628.3 114.8,630.4 126.6,632.5 136.7,635.8 148.5,637.4 162.0,638.3 172.2,641.0 180.6,643.9 189.0,648.9 198.4,653.1 206.9,656.2 220.4,658.7 233.9,659.0 247.4,659.6 264.3,659.9 281.1,660.7 298.0,661.6 311.5,660.7 325.0,660.4 336.8,659.9 350.3,660.4 363.8,661.1 375.7,662.4 388.4,665.5 398.6,666.6 408.7,666.3 418.8,664.4 430.6,660.2 440.8,657.9 452.6,655.7 464.4,651.5 474.5,648.1 484.6,643.9 494.8,638.8 504.9,633.7 515.0,629.5 525.1,626.5 537.0,624.1 548.8,623.3 558.9,623.1 567.3,621.6 580.0,619.0 586.9,617.4 602.1,616.0 615.6,616.0 627.4,617.7 637.5,620.7 647.6,623.1 657.8,627.5 667.9,631.5 678.0,634.6 691.5,636.3 701.6,638.0 711.8,639.1 721.9,637.6 737.1,635.4 747.2,631.2 757.3,626.1 769.3,622.8 778.6,618.0 793.8,612.3 803.9,611.3 815.7,610.6 827.5,610.3 834.3,610.9 839.3,612.6 847.8,614.7 857.9,617.7 865.5,619.4 874.8,624.1 884.9,629.0 895.0,632.9 903.5,635.4 917.0,641.0 927.1,642.2 937.2,645.0 947.3,646.4 953.5,647.7 970.4,648.1 986.4,647.7 999.9,644.4 1007.5,641.0 1019.3,637.1 1029.5,632.5 1037.9,629.5 1043.8,628.3" fill="none" stroke="#ffffff" stroke-width="2" stroke-linejoin="round" stroke-linecap="round"/>
<line x1="1" y1="581.5" x2="1185" y2="581.5" stroke="#00e200" stroke-width="1" stroke-dasharray="1 2" shape-rendering="crispEdges"/>
<line x1="1" y1="672.5" x2="1185" y2="672.5" stroke="#00e200" stroke-width="1" stroke-dasharray="1 2" shape-rendering="crispEdges"/>
<line x1="1" y1="594.5" x2="1185" y2="594.5" stroke="#f5c400" stroke-width="1" stroke-dasharray="1 2" shape-rendering="crispEdges"/>
<line x1="1" y1="659.5" x2="1185" y2="659.5" stroke="#f5c400" stroke-width="1" stroke-dasharray="1 2" shape-rendering="crispEdges"/>
<rect x="362" y="682.5" width="34" height="8.5" rx="4.25" fill="#ff0000"/>
<g fill="#b0b0b0" opacity="1" shape-rendering="crispEdges"><rect x="397" y="3" width="2" height="2"/><rect x="397" y="9" width="2" height="2"/><rect x="397" y="15" width="2" height="2"/><rect x="397" y="21" width="2" height="2"/></g>
<g fill="#ffffff" opacity="1" shape-rendering="crispEdges"><rect x="397" y="27" width="2" height="2"/><rect x="397" y="33" width="2" height="2"/><rect x="397" y="39" width="2" height="2"/><rect x="397" y="45" width="2" height="2"/><rect x="397" y="51" width="2" height="2"/><rect x="397" y="57" width="2" height="2"/><rect x="397" y="63" width="2" height="2"/><rect x="397" y="69" width="2" height="2"/><rect x="397" y="75" width="2" height="2"/><rect x="397" y="81" width="2" height="2"/><rect x="397" y="87" width="2" height="2"/><rect x="397" y="93" width="2" height="2"/><rect x="397" y="99" width="2" height="2"/><rect x="397" y="105" width="2" height="2"/><rect x="397" y="111" width="2" height="2"/><rect x="397" y="117" width="2" height="2"/><rect x="397" y="123" width="2" height="2"/><rect x="397" y="129" width="2" height="2"/><rect x="397" y="135" width="2" height="2"/><rect x="397" y="141" width="2" height="2"/><rect x="397" y="147" width="2" height="2"/><rect x="397" y="153" width="2" height="2"/><rect x="397" y="159" width="2" height="2"/><rect x="397" y="165" width="2" height="2"/><rect x="397" y="171" width="2" height="2"/><rect x="397" y="177" width="2" height="2"/><rect x="397" y="183" width="2" height="2"/><rect x="397" y="189" width="2" height="2"/><rect x="397" y="195" width="2" height="2"/><rect x="397" y="201" width="2" height="2"/><rect x="397" y="207" width="2" height="2"/><rect x="397" y="213" width="2" height="2"/><rect x="397" y="219" width="2" height="2"/><rect x="397" y="225" width="2" height="2"/><rect x="397" y="231" width="2" height="2"/><rect x="397" y="237" width="2" height="2"/><rect x="397" y="243" width="2" height="2"/><rect x="397" y="249" width="2" height="2"/><rect x="397" y="255" width="2" height="2"/><rect x="397" y="261" width="2" height="2"/><rect x="397" y="267" width="2" height="2"/><rect x="397" y="273" width="2" height="2"/><rect x="397" y="279" width="2" height="2"/><rect x="397" y="285" width="2" height="2"/><rect x="397" y="291" width="2" height="2"/><rect x="397" y="297" width="2" height="2"/><rect x="397" y="303" width="2" height="2"/><rect x="397" y="309" width="2" height="2"/><rect x="397" y="315" width="2" height="2"/><rect x="397" y="321" width="2" height="2"/><rect x="397" y="327" width="2" height="2"/><rect x="397" y="333" width="2" height="2"/><rect x="397" y="339" width="2" height="2"/><rect x="397" y="345" width="2" height="2"/><rect x="397" y="351" width="2" height="2"/><rect x="397" y="357" width="2" height="2"/><rect x="397" y="363" width="2" height="2"/><rect x="397" y="369" width="2" height="2"/><rect x="397" y="375" width="2" height="2"/><rect x="397" y="381" width="2" height="2"/><rect x="397" y="387" width="2" height="2"/><rect x="397" y="393" width="2" height="2"/><rect x="397" y="399" width="2" height="2"/><rect x="397" y="405" width="2" height="2"/><rect x="397" y="411" width="2" height="2"/><rect x="397" y="417" width="2" height="2"/><rect x="397" y="423" width="2" height="2"/><rect x="397" y="429" width="2" height="2"/><rect x="397" y="435" width="2" height="2"/></g>
<g fill="#ffffff" opacity="1" shape-rendering="crispEdges"><rect x="397" y="441" width="2" height="2"/><rect x="397" y="447" width="2" height="2"/><rect x="397" y="453" width="2" height="2"/><rect x="397" y="459" width="2" height="2"/><rect x="397" y="465" width="2" height="2"/><rect x="397" y="471" width="2" height="2"/><rect x="397" y="477" width="2" height="2"/><rect x="397" y="483" width="2" height="2"/><rect x="397" y="489" width="2" height="2"/><rect x="397" y="495" width="2" height="2"/><rect x="397" y="501" width="2" height="2"/><rect x="397" y="507" width="2" height="2"/><rect x="397" y="513" width="2" height="2"/><rect x="397" y="519" width="2" height="2"/><rect x="397" y="525" width="2" height="2"/><rect x="397" y="531" width="2" height="2"/><rect x="397" y="537" width="2" height="2"/><rect x="397" y="543" width="2" height="2"/><rect x="397" y="549" width="2" height="2"/><rect x="397" y="555" width="2" height="2"/><rect x="397" y="561" width="2" height="2"/></g>
<g fill="#ffffff" opacity="1" shape-rendering="crispEdges"><rect x="397" y="568" width="2" height="2"/><rect x="397" y="574" width="2" height="2"/><rect x="397" y="580" width="2" height="2"/><rect x="397" y="586" width="2" height="2"/><rect x="397" y="592" width="2" height="2"/><rect x="397" y="598" width="2" height="2"/><rect x="397" y="604" width="2" height="2"/><rect x="397" y="610" width="2" height="2"/><rect x="397" y="616" width="2" height="2"/><rect x="397" y="622" width="2" height="2"/><rect x="397" y="628" width="2" height="2"/><rect x="397" y="634" width="2" height="2"/><rect x="397" y="640" width="2" height="2"/><rect x="397" y="646" width="2" height="2"/><rect x="397" y="652" width="2" height="2"/><rect x="397" y="658" width="2" height="2"/><rect x="397" y="664" width="2" height="2"/><rect x="397" y="670" width="2" height="2"/><rect x="397" y="676" width="2" height="2"/><rect x="397" y="682" width="2" height="2"/><rect x="397" y="688" width="2" height="2"/><rect x="397" y="694" width="2" height="2"/></g>
<rect x="398" y="291" width="1" height="113" fill="#089981" shape-rendering="crispEdges"/>
<rect x="396" y="355" width="5" height="16" fill="#089981" shape-rendering="crispEdges"/>
<circle cx="1050.7" cy="344.3" r="4.8" fill="#000"/><circle cx="1059.5" cy="345.4" r="4.5" fill="#000"/><circle cx="1053.8" cy="340.2" r="3" fill="#000"/><ellipse cx="1055" cy="345.5" rx="5" ry="3.6" fill="#000"/>
<rect x="1051" y="349" width="1" height="3" fill="#f23645"/>
<rect x="1050" y="309" width="1" height="10" fill="#5a1424" opacity="0.3"/>
<g opacity="0.999">
<circle cx="14.9" cy="13.1" r="8.9" fill="#06211d"/><circle cx="14.9" cy="13.1" r="4.2" fill="#10a08a"/>
<text x="31.90" y="18.90" font-size="13" fill="#d6d6d6" font-family="&quot;Liberation Sans&quot;, &quot;Noto Sans CJK SC&quot;, sans-serif" text-anchor="start">开</text>
<text x="44.50" y="18.00" font-size="13" fill="#d6d6d6" font-weight="normal" text-anchor="start">=</text>
<text x="53.00" y="17.80" font-size="13.2" fill="#f23645" font-weight="normal" text-anchor="start" textLength="57.2" lengthAdjust="spacingAndGlyphs">64,945.44</text>
<text x="116.00" y="18.90" font-size="13" fill="#d6d6d6" font-family="&quot;Liberation Sans&quot;, &quot;Noto Sans CJK SC&quot;, sans-serif" text-anchor="start">高</text>
<text x="128.60" y="18.00" font-size="13" fill="#d6d6d6" font-weight="normal" text-anchor="start">=</text>
<text x="137.10" y="17.80" font-size="13.2" fill="#f23645" font-weight="normal" text-anchor="start" textLength="57.2" lengthAdjust="spacingAndGlyphs">65,004.16</text>
<text x="200.10" y="18.90" font-size="13" fill="#d6d6d6" font-family="&quot;Liberation Sans&quot;, &quot;Noto Sans CJK SC&quot;, sans-serif" text-anchor="start">低</text>
<text x="212.70" y="18.00" font-size="13" fill="#d6d6d6" font-weight="normal" text-anchor="start">=</text>
<text x="221.20" y="17.80" font-size="13.2" fill="#f23645" font-weight="normal" text-anchor="start" textLength="57.2" lengthAdjust="spacingAndGlyphs">64,680.57</text>
<text x="284.40" y="18.90" font-size="13" fill="#d6d6d6" font-family="&quot;Liberation Sans&quot;, &quot;Noto Sans CJK SC&quot;, sans-serif" text-anchor="start">收</text>
<text x="297.00" y="18.00" font-size="13" fill="#d6d6d6" font-weight="normal" text-anchor="start">=</text>
<text x="305.50" y="17.80" font-size="13.2" fill="#f23645" font-weight="normal" text-anchor="start" textLength="57.2" lengthAdjust="spacingAndGlyphs">64,695.35</text>
<text x="369.40" y="17.80" font-size="13.2" fill="#f23645" font-weight="normal" text-anchor="start" textLength="43.8" lengthAdjust="spacingAndGlyphs">−276.67</text>
<text x="418.80" y="17.80" font-size="13.2" fill="#f23645" font-weight="normal" text-anchor="start" textLength="48.5" lengthAdjust="spacingAndGlyphs">(−0.43%)</text>
<text x="708.20" y="248.00" font-size="13.6" fill="#ffffff" font-weight="normal" text-anchor="start" textLength="36.6" lengthAdjust="spacingAndGlyphs" stroke="#ffffff" stroke-width="0.45">72300</text>
<text x="708.00" y="376.00" font-size="13.6" fill="#ffffff" font-weight="normal" text-anchor="start" textLength="36.8" lengthAdjust="spacingAndGlyphs" stroke="#ffffff" stroke-width="0.45">65100</text>
<text x="330.00" y="396.00" font-size="13.6" fill="#ffffff" font-weight="normal" text-anchor="start" textLength="36.7" lengthAdjust="spacingAndGlyphs" stroke="#ffffff" stroke-width="0.45">60000</text>
<text x="861.50" y="282.50" font-size="14" fill="#f0f0f0" font-weight="bold" font-family="&quot;Liberation Sans&quot;, &quot;Noto Sans CJK SC&quot;, sans-serif" text-anchor="start" textLength="28" lengthAdjust="spacingAndGlyphs">中枢</text>
<text x="7.20" y="463.00" font-size="12.8" fill="#d6d6d6" font-family="&quot;Liberation Sans&quot;, &quot;Noto Sans CJK SC&quot;, sans-serif" text-anchor="start" textLength="51.2" lengthAdjust="spacingAndGlyphs">动能量化</text>
<rect x="58.8" y="462.4" width="6.8" height="1.1" fill="#d6d6d6"/>
<text x="66.40" y="461.70" font-size="13.2" fill="#d6d6d6" font-weight="normal" text-anchor="start" textLength="27.6" lengthAdjust="spacingAndGlyphs">Cody</text>
<text x="103.10" y="461.70" font-size="13.2" fill="#ff5252" font-weight="normal" text-anchor="start" textLength="43.5" lengthAdjust="spacingAndGlyphs">−317.53</text>
<text x="154.70" y="461.70" font-size="13.2" fill="#ffffff" font-weight="normal" text-anchor="start" textLength="43.9" lengthAdjust="spacingAndGlyphs" stroke="#ffffff" stroke-width="0.45">−392.25</text>
<text x="206.20" y="461.70" font-size="13.2" fill="#2962ff" font-weight="normal" text-anchor="start" textLength="37.3" lengthAdjust="spacingAndGlyphs">−74.72</text>
<rect x="6.5" y="576" width="78.5" height="17" fill="#000"/>
<rect x="127" y="576" width="14" height="17" fill="#000"/>
<rect x="146" y="576" width="14.300000000000011" height="17" fill="#000"/>
<rect x="167.5" y="576" width="11.5" height="17" fill="#000"/>
<rect x="186" y="576" width="12" height="17" fill="#000"/>
<text x="7.20" y="590.30" font-size="12.9" fill="#d6d6d6" font-family="&quot;Liberation Sans&quot;, &quot;Noto Sans CJK SC&quot;, sans-serif" text-anchor="start" textLength="77.4" lengthAdjust="spacingAndGlyphs">价差交易模型</text>
<rect x="85.1" y="590.2" width="6.8" height="1.1" fill="#d6d6d6"/>
<text x="92.50" y="589.50" font-size="13.2" fill="#d6d6d6" font-weight="normal" text-anchor="start" textLength="25.6" lengthAdjust="spacingAndGlyphs">cody</text>
<text x="127.70" y="589.50" font-size="13.2" fill="#ff00ff" font-weight="normal" text-anchor="start" textLength="12.2" lengthAdjust="spacingAndGlyphs">28</text>
<text x="147.00" y="589.50" font-size="13.2" fill="#ffffff" font-weight="normal" text-anchor="start" textLength="12.2" lengthAdjust="spacingAndGlyphs" stroke="#ffffff" stroke-width="0.45">47</text>
<rect x="0" y="594" width="198.5" height="1" fill="#000" opacity="0.3"/>
<circle cx="173.1" cy="585.5" r="4.2" fill="none" stroke="#d6d6d6" stroke-width="1.25"/><line x1="169.79999999999998" y1="590.1" x2="176.7" y2="580.6" stroke="#d6d6d6" stroke-width="1.2"/>
<circle cx="191.7" cy="585.5" r="4.2" fill="none" stroke="#d6d6d6" stroke-width="1.25"/><line x1="188.39999999999998" y1="590.1" x2="195.29999999999998" y2="580.6" stroke="#d6d6d6" stroke-width="1.2"/>
<g fill="#d9d9d9" stroke="#101010" stroke-width="4" paint-order="stroke" stroke-linejoin="round">
<path d="M10.3 669.4H22.8V683.5H16.4V675.2H10.3Z"/>
<circle cx="27" cy="671.8" r="2.35"/>
<path d="M32.7 669.4H39.8L33.7 683.5H26.6Z"/>
<text x="47.4" y="683.6" font-size="20.6" font-weight="bold" textLength="120.6" lengthAdjust="spacingAndGlyphs">TradingView</text>
</g>
<text x="2.00" y="716.00" font-size="12" fill="#1b1b1b" font-weight="normal" text-anchor="middle">27</text>
<text x="79.00" y="716.00" font-size="12" fill="#1b1b1b" font-weight="normal" text-anchor="middle">29</text>
<text x="272.00" y="716.00" font-size="12" fill="#1b1b1b" font-weight="normal" text-anchor="middle">3</text>
<text x="501.00" y="716.00" font-size="12" fill="#1b1b1b" font-weight="normal" text-anchor="middle">9</text>
<text x="578.00" y="716.00" font-size="12" fill="#1b1b1b" font-weight="normal" text-anchor="middle">11</text>
<text x="655.00" y="716.00" font-size="12" fill="#1b1b1b" font-weight="normal" text-anchor="middle">13</text>
<text x="731.00" y="716.00" font-size="12" fill="#1b1b1b" font-weight="normal" text-anchor="middle">15</text>
<text x="808.00" y="716.00" font-size="12" fill="#1b1b1b" font-weight="normal" text-anchor="middle">17</text>
<text x="885.00" y="716.00" font-size="12" fill="#1b1b1b" font-weight="normal" text-anchor="middle">19</text>
<text x="962.00" y="716.00" font-size="12" fill="#1b1b1b" font-weight="normal" text-anchor="middle">21</text>
<text x="1038.00" y="716.00" font-size="12" fill="#1b1b1b" font-weight="normal" text-anchor="middle">23</text>
<text x="1115.00" y="716.00" font-size="12" fill="#1b1b1b" font-weight="normal" text-anchor="middle">25</text>
<text x="185.00" y="716.00" font-size="12" fill="#1b1b1b" font-weight="normal" text-anchor="start">2</text>
<text x="191.30" y="715.30" font-size="11.5" fill="#1b1b1b" font-family="&quot;Liberation Sans&quot;, &quot;Noto Sans CJK SC&quot;, sans-serif" text-anchor="start">月</text>
<rect x="326" y="698" width="145" height="20" fill="#ffffff"/>
<text x="334.00" y="716.30" font-size="12" fill="#000" font-family="&quot;Liberation Sans&quot;, &quot;Noto Sans CJK SC&quot;, sans-serif" text-anchor="start" textLength="23.9" lengthAdjust="spacingAndGlyphs">周五</text>
<text x="362.50" y="717.00" font-size="12" fill="#000" font-weight="normal" text-anchor="start" textLength="58.2" lengthAdjust="spacingAndGlyphs">2026-02-06</text>
<text x="432.00" y="717.00" font-size="12" fill="#000" font-weight="normal" text-anchor="start" textLength="29.8" lengthAdjust="spacingAndGlyphs">08:00</text>
</g>
</svg></body></html>
